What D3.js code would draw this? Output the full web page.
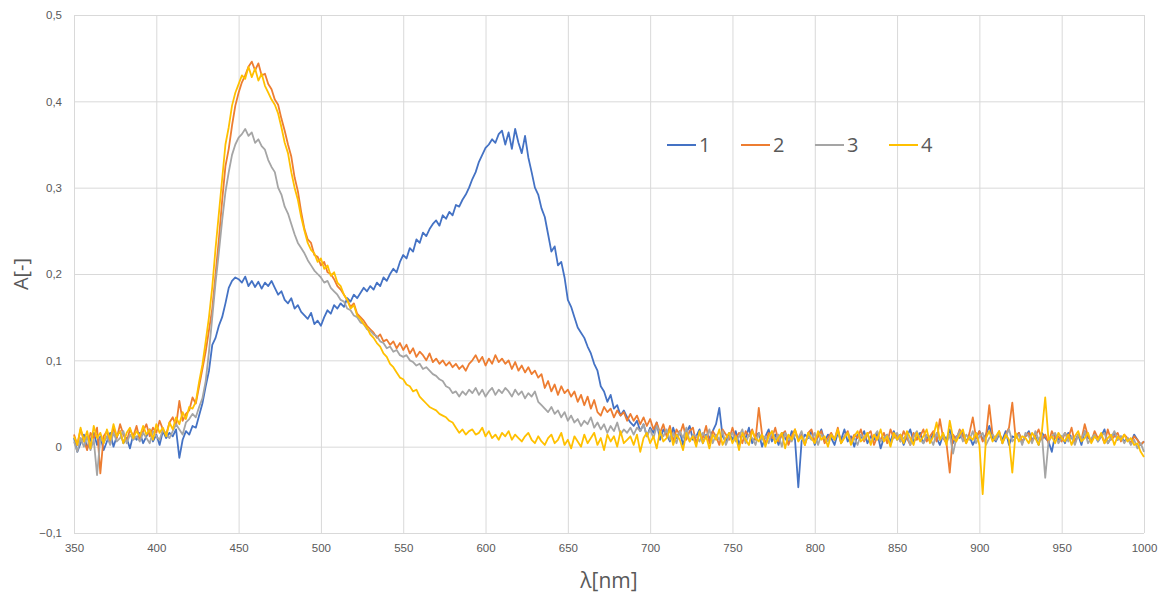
<!DOCTYPE html>
<html>
<head>
<meta charset="utf-8">
<script src="https://cdn.jsdelivr.net/npm/d3@7"></script>
<style>
  html, body { margin: 0; padding: 0; background: #fff; }
  svg { display: block; font-family: "Open Sans", "Liberation Sans", sans-serif; }
</style>
</head>
<body>
<svg id="chart" width="1170" height="596"></svg>
<script>
// wavelengths (nm), one sample every 2 nm
const wavelengths = d3.range(350, 1001, 2);

const seriesNames = ["1", "2", "3", "4"];
const seriesColors = ["#4472C4", "#ED7D31", "#A5A5A5", "#FFC000"];

const xTicks = [350, 400, 450, 500, 550, 600, 650, 700, 750, 800, 850, 900, 950, 1000];
const yTicks = [-0.1, 0, 0.1, 0.2, 0.3, 0.4, 0.5];

const s1 = [
  .010,-.006,.004,.014,-.002,.008,.016,.002,.012,-.004,
  .006,.016,.000,.012,.018,.004,.010,-.002,.014,.008,
  .016,.004,.012,.020,.006,.014,.002,.018,.010,.016,
  .012,.020,-.013,.008,.018,.014,.024,.022,.036,.050,
  .070,.088,.118,.126,.140,.150,.166,.184,.192,.196,
  .194,.190,.197,.186,.192,.185,.191,.183,.190,.186,
  .192,.184,.176,.180,.170,.166,.172,.160,.164,.156,
  .152,.148,.155,.142,.146,.140,.150,.158,.154,.164,
  .160,.166,.162,.172,.168,.176,.172,.178,.184,.180,
  .186,.182,.190,.186,.196,.192,.200,.206,.202,.214,
  .222,.218,.230,.226,.240,.236,.248,.244,.252,.258,
  .262,.256,.268,.264,.272,.268,.280,.278,.286,.292,
  .300,.310,.318,.330,.338,.346,.350,.356,.352,.362,
  .366,.350,.364,.345,.368,.352,.340,.360,.335,.318,
  .300,.292,.276,.266,.246,.226,.232,.210,.214,.196,
  .170,.162,.150,.138,.132,.126,.116,.108,.096,.088,
  .070,.064,.052,.060,.044,.048,.036,.042,.034,.028,
  .024,.030,.018,.026,.012,.022,.016,.028,.008,.020,
  .014,.006,.022,.010,.018,.002,.016,.024,.008,.012,
  .020,.004,.014,.010,.018,.026,.045,.012,.006,.016,
  .008,.018,.002,.014,.010,.022,.004,.012,.016,.000,
  .012,.020,.006,.014,.002,.016,.010,.004,.018,.008,
  -.047,.006,.014,.010,.018,.002,.012,.020,.006,.014,
  .010,.002,.016,.008,.020,.006,.012,.000,.014,.010,
  .018,.004,.012,.008,.016,-.002,.010,.014,.006,.018,
  .008,.014,.002,.012,.020,.006,.010,.016,.004,.012,
  .006,.016,.010,.002,.014,.008,.020,.004,.012,.010,
  .016,.006,.012,.002,.010,.018,.008,.014,.024,.010,
  .006,.014,.008,.018,.002,.012,.010,.016,.004,.012,
  .018,.008,.012,.002,.016,.010,.006,-.006,.014,.008,
  .012,.004,.016,.010,.006,.014,.002,.018,.010,.008,
  .014,.006,.012,.020,.004,.010,.016,.008,.012,.006,
  .010,.004,.014,.008,.002,.006
];
const s2 = [
  .014,.002,.020,.008,-.004,.016,.010,.022,-.031,.012,
  .018,.004,.022,.010,.026,.014,.006,.020,.012,.024,
  .008,.018,.026,.012,.022,.016,.030,.020,.014,.028,
  .034,.024,.053,.030,.038,.042,.057,.050,.070,.090,
  .110,.135,.160,.200,.240,.285,.325,.345,.372,.395,
  .410,.422,.430,.440,.446,.436,.444,.430,.432,.420,
  .414,.402,.396,.380,.366,.350,.336,.312,.296,.272,
  .252,.240,.236,.222,.220,.210,.214,.202,.200,.194,
  .186,.182,.176,.170,.162,.166,.154,.150,.146,.140,
  .136,.132,.126,.130,.122,.124,.118,.122,.114,.120,
  .112,.118,.108,.114,.104,.110,.106,.100,.108,.098,
  .102,.096,.100,.094,.098,.092,.096,.090,.094,.088,
  .096,.100,.106,.098,.104,.094,.102,.096,.106,.098,
  .102,.096,.100,.090,.098,.088,.094,.086,.092,.084,
  .088,.080,.084,.068,.076,.064,.072,.060,.070,.062,
  .066,.058,.064,.052,.060,.048,.058,.044,.054,.040,
  .036,.046,.040,.044,.034,.042,.036,.040,.030,.038,
  .030,.036,.026,.034,.024,.032,.020,.028,.016,.026,
  .012,.024,.006,.020,.014,.026,.008,.018,.022,.004,
  .016,.010,.024,.004,.018,.012,.002,.020,.014,.008,
  .022,.010,.016,.004,.018,.012,.020,.008,.045,.014,
  .004,.016,.010,.022,.006,.014,.018,.002,.012,.020,
  .008,.014,.002,.016,.020,.006,.012,.018,.004,.010,
  .016,.008,.022,.004,.012,.018,.006,.014,.010,.020,
  .006,.014,.018,.002,.012,.008,.016,.004,.020,.010,
  .014,.006,.018,.010,.002,.016,.008,.012,.020,.006,
  .012,.018,.006,.032,.010,.004,-.030,.014,.008,.020,
  .012,.004,.016,.034,.010,.018,.006,.012,.048,.014,
  .008,.018,.004,.014,.022,.051,.010,.016,.006,.012,
  .016,.006,.012,.020,.008,.014,.004,.018,.010,.012,
  .006,.016,.010,.022,.004,.014,.008,.026,.012,.006,
  .018,.010,.014,.004,.020,.008,.012,.016,.006,.014,
  .010,.004,.012,.008,.002,.006
];
const s3 = [
  .006,-.006,.010,.000,.012,-.004,.008,-.033,.010,.004,
  .012,.002,.016,.006,.010,.018,.004,.014,.008,.012,
  .006,.016,.010,.004,.018,.012,.008,.020,.014,.010,
  .018,.026,.020,.014,.028,.032,.038,.034,.046,.056,
  .076,.110,.150,.190,.225,.262,.295,.318,.338,.350,
  .358,.362,.368,.360,.364,.352,.356,.348,.344,.332,
  .324,.318,.300,.292,.278,.270,.258,.246,.236,.230,
  .224,.216,.210,.204,.200,.196,.190,.192,.184,.180,
  .176,.170,.168,.160,.158,.152,.150,.144,.142,.136,
  .134,.130,.128,.122,.120,.114,.116,.110,.112,.106,
  .104,.106,.100,.098,.094,.096,.090,.092,.088,.084,
  .082,.078,.076,.070,.068,.062,.064,.058,.064,.060,
  .066,.062,.068,.060,.066,.058,.064,.068,.060,.066,
  .062,.068,.064,.058,.066,.060,.064,.056,.062,.058,
  .064,.052,.048,.044,.040,.046,.038,.042,.034,.040,
  .030,.036,.028,.032,.024,.030,.026,.034,.022,.028,
  .020,.026,.016,.024,.018,.028,.014,.020,.016,.022,
  .014,.022,.018,.026,.012,.020,.010,.024,.016,.012,
  .020,.008,.016,.004,.018,.010,.022,.006,.014,.012,
  .006,.016,.010,.020,.004,.014,.008,.018,.002,.012,
  .016,.006,.012,.020,.004,.014,.010,.002,.016,.008,
  .012,.004,.018,.008,.014,.000,.016,.010,.006,.014,
  .010,.018,.004,.012,.008,.016,.002,.014,.010,.006,
  .014,.008,.018,.004,.012,.016,.006,.010,.002,.014,
  .008,.016,.004,.012,.018,.006,.010,.014,.002,.012,
  .016,.006,.010,.014,.002,.012,.018,.008,.004,.014,
  .010,.002,.016,.008,.012,.004,.014,-.008,.010,.018,
  .006,.014,.008,.018,.004,.012,.016,.002,.010,.014,
  .008,.016,.004,.012,.020,.006,.010,.014,.002,.016,
  .012,.004,.018,.008,.014,-.036,.006,.012,.016,.004,
  .010,.016,.006,.012,.002,.014,.008,.018,.004,.010,
  .014,.006,.012,.016,.004,.010,.018,.008,.012,.004,
  .010,.002,.008,-.002,.004,-.006
];
const s4 = [
  .012,.002,.022,.006,.018,-.002,.024,.010,.016,.004,
  .020,.008,.026,.012,.018,.004,.016,.022,.010,.018,
  .012,.024,.014,.020,.008,.026,.016,.022,.012,.028,
  .020,.034,.026,.040,.032,.046,.044,.052,.075,.095,
  .122,.150,.185,.230,.270,.310,.350,.370,.395,.410,
  .420,.430,.426,.440,.428,.438,.424,.432,.418,.410,
  .402,.396,.386,.370,.352,.340,.318,.300,.286,.266,
  .250,.236,.228,.224,.214,.218,.206,.210,.198,.202,
  .190,.186,.176,.170,.160,.164,.152,.148,.142,.138,
  .130,.126,.120,.116,.108,.104,.096,.092,.086,.080,
  .078,.072,.070,.064,.066,.058,.054,.050,.046,.044,
  .042,.038,.036,.034,.030,.028,.022,.016,.020,.014,
  .018,.020,.014,.016,.022,.012,.018,.010,.014,.008,
  .016,.012,.018,.008,.014,.010,.006,.012,.016,.008,
  .004,.012,.006,.002,.010,.014,.004,.008,.016,.002,
  .008,-.002,.012,.006,.000,.014,.004,.010,.016,.002,
  .010,-.004,.014,.006,.012,.000,.018,.004,.008,.012,
  .002,.014,-.006,.010,.016,.004,.012,-.002,.018,.006,
  .010,.020,.002,.014,.008,-.004,.016,.006,.012,.000,
  .018,.004,.012,-.002,.014,.008,.020,.002,.010,.016,
  .004,.012,-.004,.016,.008,.002,.018,.010,.006,.014,
  .000,.012,.018,.004,.010,.016,-.002,.014,.008,.020,
  .006,.012,.002,.016,.010,.004,.018,.008,.012,.000,
  .014,.008,.020,.004,.010,.016,.002,.012,.018,.006,
  .010,.016,.002,.014,.008,.020,.006,.012,.000,.016,
  .008,.014,.004,.018,.010,.002,.016,.006,.012,.020,
  .004,.012,.028,.008,.016,.002,.030,.010,.006,.014,
  .020,.004,.012,.008,.016,.002,-.055,.010,.018,.006,
  .012,.018,.004,.014,.008,-.030,.016,.006,.012,.010,
  .004,.016,.010,.002,.018,.057,.008,.012,.004,.016,
  .010,.006,.014,.002,.012,.018,.006,.010,.016,.004,
  .012,.008,.016,.004,.010,.014,.002,.012,.008,.014,
  .006,.010,.002,.004,-.006,-.012
];
const seriesValues = [s1, s2, s3, s4];

const svg = d3.select("#chart");
const W = 1170, H = 596;
const margin = { left: 74, right: 26, top: 15, bottom: 63 };

const x = d3.scaleLinear().domain([350, 1000]).range([margin.left, W - margin.right]);
const y = d3.scaleLinear().domain([-0.1, 0.5]).range([H - margin.bottom, margin.top]);

const fmtY = d => d === 0 ? "0" : d3.format(".1f")(d).replace(".", ",");
const textColor = "#595959";
const gridColor = "#d9d9d9";

// horizontal gridlines + y labels
const yAxis = d3.axisLeft(y).tickValues(yTicks).tickFormat(fmtY)
  .tickSize(-(W - margin.left - margin.right)).tickPadding(12);
const gy = svg.append("g").attr("transform", `translate(${margin.left},0)`).call(yAxis);
gy.select(".domain").remove();
gy.selectAll(".tick line").attr("stroke", gridColor).attr("stroke-width", 1);
gy.selectAll(".tick text").attr("fill", textColor).attr("font-size", 11.5);

// vertical gridlines + x labels
const xAxis = d3.axisBottom(x).tickValues(xTicks).tickFormat(d3.format("d"))
  .tickSize(-(H - margin.top - margin.bottom)).tickPadding(11);
const gx = svg.append("g").attr("transform", `translate(0,${H - margin.bottom})`).call(xAxis);
gx.select(".domain").remove();
gx.selectAll(".tick line").attr("stroke", gridColor).attr("stroke-width", 1);
gx.selectAll(".tick text").attr("fill", textColor).attr("font-size", 11.5);

// lines
const line = d3.line()
  .x((d, i) => x(wavelengths[i]))
  .y(d => y(d));

seriesValues.forEach((vals, k) => {
  svg.append("path")
    .datum(vals)
    .attr("fill", "none")
    .attr("stroke", seriesColors[k])
    .attr("stroke-width", 1.8)
    .attr("stroke-linejoin", "round")
    .attr("d", line);
});

// legend
const legendX = [667, 741, 815, 889];
const legendY = 145;
const lg = svg.append("g");
seriesNames.forEach((name, k) => {
  lg.append("line")
    .attr("x1", legendX[k]).attr("x2", legendX[k] + 29)
    .attr("y1", legendY).attr("y2", legendY)
    .attr("stroke", seriesColors[k]).attr("stroke-width", 2);
  lg.append("text")
    .attr("x", legendX[k] + 32).attr("y", legendY + 7)
    .attr("fill", textColor).attr("font-size", 20)
    .text(name);
});

// axis titles
svg.append("text")
  .attr("transform", `translate(28,${(y(0.5) + y(-0.1)) / 2}) rotate(-90)`)
  .attr("text-anchor", "middle")
  .attr("fill", textColor).attr("font-size", 20)
  .text("A[-]");
svg.append("text")
  .attr("x", (x(350) + x(1000)) / 2).attr("y", 588)
  .attr("text-anchor", "middle")
  .attr("fill", textColor).attr("font-size", 21)
  .text("λ[nm]");
</script>
</body>
</html>
